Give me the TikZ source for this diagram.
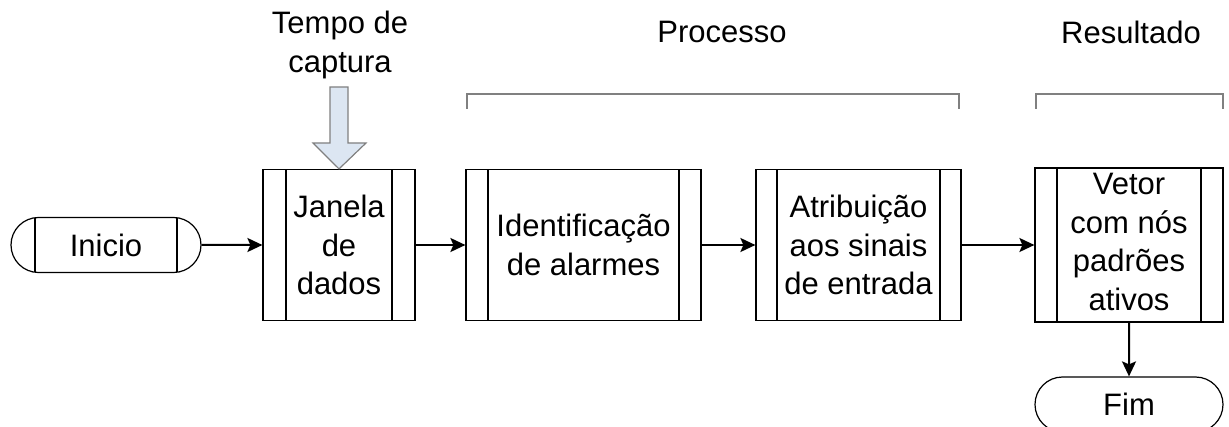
\documentclass[tikz,border=0pt]{standalone}
\usepackage{fontspec}
\setmainfont{Liberation Sans}
\usetikzlibrary{shapes.misc,arrows.meta}
\definecolor{bracketgray}{RGB}{128,128,128}
\definecolor{arrowfill}{RGB}{220,230,242}
\begin{document}
\begin{tikzpicture}[x=1pt,y=-1pt,
  every node/.style={font=\fontsize{31}{38.5}\selectfont, align=center, inner sep=0pt},
  subproc/.style={draw, line width=1.2pt, minimum height=151pt, minimum width=#1},
  sidebars/.style={path picture={
    \draw[line width=1.2pt]
      ([xshift=#1]path picture bounding box.north west) -- ([xshift=#1]path picture bounding box.south west)
      ([xshift=-#1]path picture bounding box.north east) -- ([xshift=-#1]path picture bounding box.south east);}},
  terminal/.style={draw, rounded rectangle, line width=1.2pt, minimum height=55pt, minimum width=#1},
  flow/.style={line width=2pt, -{Stealth[length=15pt,width=14pt,inset=3pt]}},
  bracket/.style={draw=bracketgray, line width=1.2pt}
]
\useasboundingbox (0,0) rectangle (1229,427);

% start terminal and the process blocks
\node[terminal=190pt, sidebars=24pt] (ini) at (106,245) {Inicio};
\node[subproc=152pt, sidebars=23pt] (jan) at (339,245) {Janela\\de\\dados};
\node[subproc=235pt, sidebars=22pt] (ide) at (583.5,245) {Identificação\\de alarmes};
\node[subproc=205pt, sidebars=21pt] (atr) at (858.5,245) {Atribuição\\aos sinais\\de entrada};
\node[subproc=188pt, sidebars=22pt] (vet) at (1129,245)
  {\raisebox{4pt}{\begin{tabular}{@{}c@{}}Vetor\\com nós\\padrões\\ativos\end{tabular}}};
\node[terminal=188pt] (fim) at (1129,404.5) {Fim};

% flow connectors
\draw[flow] (ini) -- (jan);
\draw[flow] (jan) -- (ide);
\draw[flow] (ide) -- (atr);
\draw[flow] (atr) -- (vet);
\draw[flow] (vet) -- (fim);

% capture-time input arrow
\node (tempo) at (340,45) {Tempo de\\captura};
\coordinate (tip) at (jan.north);
\filldraw[fill=arrowfill, draw=bracketgray, line width=1.2pt]
  (330,87) -- (348,87) -- (348,143) -- (366,143) -- (tip) -- (313,143) -- (330,143) -- cycle;

% group brackets and their titles
\node (proc) at (722,32) {Processo};
\node (res) at (1131,32) {Resultado};
\draw[bracket] (467,109) -- (467,94) -- (959,94) -- (959,109);
\draw[bracket] (1036,109) -- (1036,94) -- (1223,94) -- (1223,109);
\end{tikzpicture}
\end{document}
